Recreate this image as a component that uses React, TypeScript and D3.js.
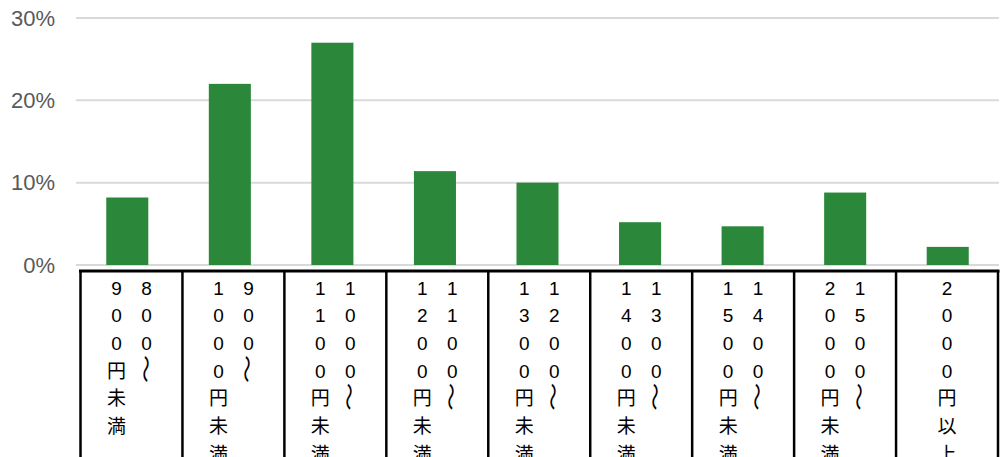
import { useEffect, useRef } from "react";
import * as d3 from "d3";

// category labels, written top-to-bottom; first line is the right-hand column
const labelLines: string[][] = [
  ["800～", "900円未満"],
  ["900～", "1000円未満"],
  ["1000～", "1100円未満"],
  ["1100～", "1200円未満"],
  ["1200～", "1300円未満"],
  ["1300～", "1400円未満"],
  ["1400～", "1500円未満"],
  ["1500～", "2000円未満"],
  ["2000円以上"],
];
const categories = labelLines.map((l) => l.join(""));
const shares = [8.2, 22.0, 27.0, 11.4, 10.0, 5.2, 4.7, 8.8, 2.2];
const yTicks = [0, 10, 20, 30];

const W = 1002;
const H = 457;
const BAR_COLOR = "#2b883b";

export default function App() {
  const svgRef = useRef<SVGSVGElement>(null);

  useEffect(() => {
    const svg = svgRef.current;
    if (!svg) return;
    const sel = d3.select(svg);
    sel.selectAll("*").remove();

    const plot = { left: 76, right: 999, top: 18, bottom: 265 };

    const x = d3
      .scaleBand<string>()
      .domain(categories)
      .range([plot.left, plot.right])
      .paddingInner(0.59)
      .paddingOuter(0.295);

    const y = d3.scaleLinear().domain([0, 30]).range([plot.bottom, plot.top]);

    // grid lines
    sel
      .append("g")
      .selectAll("line")
      .data(yTicks)
      .enter()
      .append("line")
      .attr("x1", plot.left)
      .attr("x2", plot.right)
      .attr("y1", (d) => y(d))
      .attr("y2", (d) => y(d))
      .attr("stroke", "#d9d9d9")
      .attr("stroke-width", 2);

    // y labels
    sel
      .append("g")
      .selectAll("text")
      .data(yTicks)
      .enter()
      .append("text")
      .attr("x", 55)
      .attr("y", (d) => y(d))
      .attr("text-anchor", "end")
      .attr("dominant-baseline", "central")
      .attr("font-family", "'Liberation Sans', Arial, sans-serif")
      .attr("font-size", 22)
      .attr("fill", "#595959")
      .text((d) => `${d}%`);

    // bars
    sel
      .append("g")
      .selectAll("rect")
      .data(shares)
      .enter()
      .append("rect")
      .attr("x", (_d, i) => x(categories[i]) ?? 0)
      .attr("width", x.bandwidth())
      .attr("y", (d) => y(d))
      .attr("height", (d) => y(0) - y(d))
      .attr("fill", BAR_COLOR);

    // label table
    const cell = d3
      .scaleBand<string>()
      .domain(categories)
      .range([80.5, 998]);
    const tableTop = 271;

    const table = sel.append("g");
    table
      .append("line")
      .attr("x1", 79)
      .attr("x2", 999.5)
      .attr("y1", tableTop)
      .attr("y2", tableTop)
      .attr("stroke", "#000")
      .attr("stroke-width", 3);
    const edges = [...categories.map((c) => cell(c) ?? 0), 998];
    table
      .selectAll("line.div")
      .data(edges)
      .enter()
      .append("line")
      .attr("class", "div")
      .attr("x1", (d) => d)
      .attr("x2", (d) => d)
      .attr("y1", tableTop)
      .attr("y2", H + 5)
      .attr("stroke", "#000")
      .attr("stroke-width", 2.5);

    const colGap = 30;
    const charStep = 27.7;
    const firstChar = tableTop + 17;

    labelLines.forEach((lines, ci) => {
      const cx = (cell(categories[ci]) ?? 0) + cell.bandwidth() / 2;
      lines.forEach((line, li) => {
        const lx = cx + ((lines.length - 1) / 2) * colGap - li * colGap;
        Array.from(line).forEach((ch, k) => {
          const cy = firstChar + k * charStep;
          const isWave = ch === "～";
          const t = table
            .append("text")
            .attr("text-anchor", "middle")
            .attr("dominant-baseline", "central")
            .attr(
              "font-family",
              isWave
                ? "'Noto Sans CJK JP', sans-serif"
                : "'Liberation Sans', Arial, 'Noto Sans CJK JP', sans-serif"
            )
            .attr("font-size", 19)
            .attr("fill", "#000")
            .text(ch);
          if (isWave) {
            // vertical writing turns the wave dash upright
            t.attr("x", 0)
              .attr("y", 0)
              .attr("transform", `translate(${lx},${cy - 2}) rotate(90) scale(1.5,1.05)`);
          } else {
            t.attr("x", lx).attr("y", cy);
          }
        });
      });
    });
  }, []);

  return (
    <div style={{ position: "fixed", left: 0, top: 0, width: W, height: H, background: "#fff" }}>
      <svg ref={svgRef} width={W} height={H} style={{ display: "block" }} />
    </div>
  );
}
